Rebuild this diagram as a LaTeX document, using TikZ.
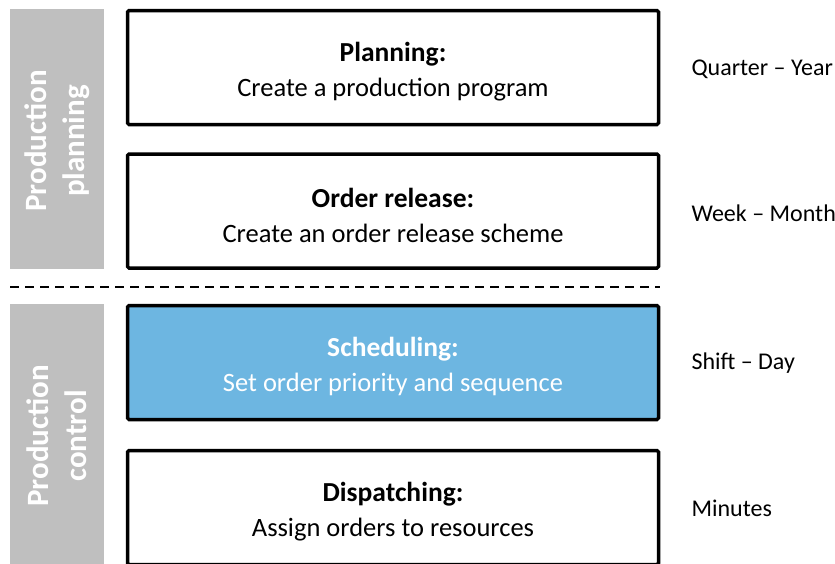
\documentclass[tikz,border=0pt]{standalone}
\usepackage{fontspec}
\setmainfont{Carlito}
\definecolor{phasegray}{HTML}{BFBFBF}
\definecolor{schedblue}{HTML}{6DB6E1}
\newcommand\lvhead[1]{{\fontsize{27.5}{35}\selectfont\bfseries #1}}
\begin{document}
\begin{tikzpicture}[x=1pt,y=-1pt,
  levelbox/.style={draw=black, line width=3.5pt, rounded corners=1.5pt, fill=white,
    minimum width=531pt, minimum height=114pt, inner sep=0pt},
  leveltext/.style={align=center, inner sep=0pt, font=\fontsize{26.5}{35}\selectfont},
  phasebar/.style={fill=phasegray, minimum width=94pt, minimum height=260pt, inner sep=0pt},
  phasetext/.style={rotate=90, text=white, align=center, font=\fontsize{31}{38}\selectfont\bfseries},
  horizon/.style={anchor=west, font=\fontsize{24}{28}\selectfont}]
  \useasboundingbox (0,0) rectangle (835,563);
  \clip (0,0) rectangle (835,563);

  % phase bars on the left
  \node[phasebar] (planbar) at (57,139) {};
  \node[phasetext] (plantext) at (57,141) {Production\\planning};
  \node[phasebar] (ctrlbar) at (57,434) {};
  \node[phasetext] (ctrltext) at (57,436) {Production\\control};

  % planning levels
  \node[levelbox] (planning) at (393,67.5) {};
  \node[leveltext] (planningtxt) at (393,71.5) {\lvhead{Planning:}\\Create a production program};
  \node[levelbox] (release) at (393,211) {};
  \node[leveltext] (releasetxt) at (393,215.5) {\lvhead{Order release:}\\Create an order release scheme};
  \node[levelbox, fill=schedblue] (scheduling) at (393,362.5) {};
  \node[leveltext, text=white] (schedulingtxt) at (393,366.5) {\lvhead{Scheduling:}\\Set order priority and sequence};
  \node[levelbox] (dispatching) at (393,507.5) {};
  \node[leveltext] (dispatchingtxt) at (393,511.5) {\lvhead{Dispatching:}\\Assign orders to resources};

  % separator between planning and control
  \coordinate (sepL) at (10,287);
  \coordinate (sepR) at (660,287);
  \draw[line width=2pt, dash pattern=on 9pt off 6pt] (sepL) -- (sepR);

  % time horizons
  \node[horizon] (h1) at (688,69) {Quarter – Year};
  \node[horizon] (h2) at (688,213) {Week – Month};
  \node[horizon] (h3) at (688,363) {Shift – Day};
  \node[horizon] (h4) at (688,508) {Minutes};
\end{tikzpicture}
\end{document}
